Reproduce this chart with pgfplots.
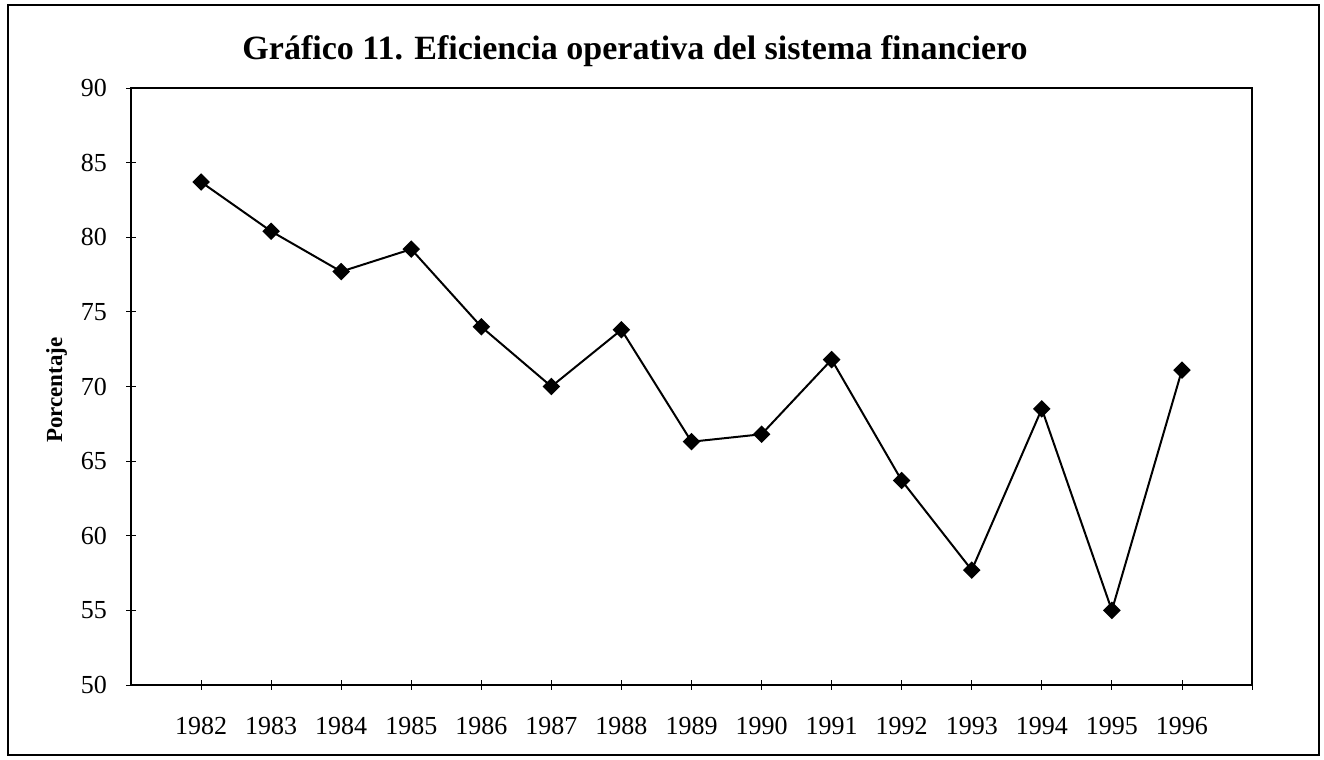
\documentclass[border=0pt]{standalone}
\usepackage{fontspec}
\setmainfont{Liberation Serif}
\usepackage{pgfplots}
\pgfplotsset{compat=1.18}
\begin{document}
\begin{tikzpicture}
\path (0pt,0pt) rectangle (662pt,380pt);
\draw[line width=0.8pt] (4pt,2.5pt) rectangle (659.5pt,377.5pt);
\node[anchor=base, font=\fontsize{17}{20}\selectfont\bfseries] at (317.5pt,350pt) {Gráfico 11. Eficiencia operativa del sistema financiero};
\node[rotate=90, anchor=center, font=\fontsize{11.5}{14}\selectfont\bfseries] at (28.3pt,185pt) {Porcentaje};
\begin{axis}[
  at={(65.5pt,37.5pt)}, anchor=south west,
  width=560.5pt, height=298.5pt, scale only axis,
  xmin=-1, xmax=15, ymin=50, ymax=90,
  xtick={0,...,15},
  xticklabels={1982,1983,1984,1985,1986,1987,1988,1989,1990,1991,1992,1993,1994,1995,1996,},
  ytick={50,55,...,90},
  xtick pos=bottom, ytick pos=left,
  tick align=center, major tick length=5pt,
  tick style={black, line width=0.4pt},
  axis line style={line width=0.8pt},
  /pgf/number format/assume math mode=true,
  ticklabel style={font=\fontsize{13}{15}\selectfont},
  xticklabel style={yshift=-10pt},
  yticklabel style={xshift=-6pt},
]
\addplot[black, line width=1pt, mark=square*, mark size=2.6pt, mark options={rotate=45, solid, fill=black}] coordinates {
(0,83.7) (1,80.4) (2,77.7) (3,79.2) (4,74.0) (5,70.0) (6,73.8) (7,66.3)
(8,66.8) (9,71.8) (10,63.7) (11,57.7) (12,68.5) (13,55.0) (14,71.1)
};
\end{axis}
\end{tikzpicture}
\end{document}
